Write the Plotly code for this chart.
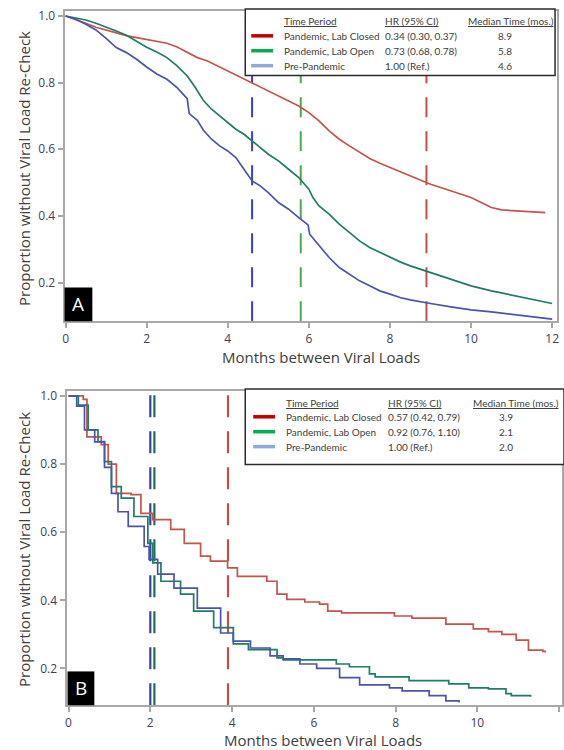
import plotly.graph_objects as go

W, H = 564, 750

# ---------------- data ----------------
series_names = ["Pandemic, Lab Closed", "Pandemic, Lab Open", "Pre-Pandemic"]

# Panel A
a_hr = ["0.34 (0.30, 0.37)", "0.73 (0.68, 0.78)", "1.00 (Ref.)"]
a_median = [8.9, 5.8, 4.6]

a_closed_x = [0, 0.25, 0.5, 0.75, 1.0, 1.25, 1.5, 1.75, 2.0, 2.25, 2.5, 2.75, 3.0, 3.25, 3.5,
              3.75, 4.0, 4.25, 4.5, 4.75, 5.0, 5.25, 5.5, 5.75, 6.0, 6.25, 6.5, 6.75, 7.0, 7.25,
              7.5, 7.75, 8.0, 8.25, 8.5, 8.75, 9.0, 9.25, 9.5, 9.75, 10.0, 10.25, 10.5, 10.75,
              11.0, 11.25, 11.5, 11.83]
a_closed_y = [1.0, 0.99, 0.978, 0.966, 0.957, 0.948, 0.941, 0.935, 0.93, 0.925, 0.918, 0.907,
              0.89, 0.875, 0.865, 0.85, 0.835, 0.82, 0.805, 0.79, 0.775, 0.76, 0.745, 0.73, 0.71,
              0.685, 0.655, 0.63, 0.61, 0.59, 0.572, 0.558, 0.545, 0.533, 0.52, 0.508, 0.495,
              0.485, 0.475, 0.465, 0.455, 0.44, 0.425, 0.418, 0.416, 0.414, 0.412, 0.41]

a_open_x = [0, 0.25, 0.5, 0.75, 1.0, 1.25, 1.5, 1.75, 2.0, 2.25, 2.5, 2.75, 3.0, 3.2, 3.4, 3.6,
            3.8, 4.0, 4.2, 4.4, 4.6, 4.75, 5.0, 5.25, 5.5, 5.75, 6.0, 6.1, 6.25, 6.5, 6.75, 7.0,
            7.25, 7.5, 7.75, 8.0, 8.25, 8.5, 8.75, 9.0, 9.5, 10.0, 10.5, 11.0, 11.5, 12.0]
a_open_y = [1.0, 0.995, 0.988, 0.978, 0.967, 0.955, 0.942, 0.925, 0.906, 0.892, 0.875, 0.85,
            0.82, 0.785, 0.746, 0.72, 0.70, 0.68, 0.66, 0.645, 0.624, 0.61, 0.585, 0.565, 0.54,
            0.515, 0.48, 0.455, 0.43, 0.405, 0.375, 0.35, 0.325, 0.305, 0.29, 0.275, 0.262,
            0.25, 0.24, 0.228, 0.21, 0.19, 0.175, 0.162, 0.15, 0.137]

a_pre_x = [0, 0.25, 0.5, 0.75, 1.0, 1.25, 1.5, 1.75, 2.0, 2.25, 2.5, 2.75, 3.0, 3.05, 3.25, 3.4,
           3.6, 3.8, 4.0, 4.2, 4.4, 4.6, 4.8, 5.0, 5.25, 5.5, 5.75, 5.98, 6.02, 6.25, 6.5, 6.75,
           7.0, 7.25, 7.5, 7.75, 8.0, 8.25, 8.5, 8.75, 9.0, 9.5, 10.0, 10.5, 11.0, 11.5, 12.0]
a_pre_y = [1.0, 0.99, 0.975, 0.958, 0.933, 0.905, 0.89, 0.87, 0.847, 0.826, 0.81, 0.785, 0.752,
           0.707, 0.687, 0.657, 0.63, 0.61, 0.595, 0.575, 0.54, 0.505, 0.49, 0.47, 0.44, 0.42,
           0.395, 0.373, 0.345, 0.31, 0.275, 0.245, 0.225, 0.205, 0.19, 0.175, 0.165, 0.155,
           0.148, 0.142, 0.137, 0.127, 0.118, 0.112, 0.104, 0.097, 0.09]

# Panel B
b_hr = ["0.57 (0.42, 0.79)", "0.92 (0.76, 1.10)", "1.00 (Ref.)"]
b_median = [3.9, 2.1, 2.0]

b_closed_x = [0, 0.36, 0.45, 0.8, 0.97, 1.17, 1.53, 1.77, 2.06, 2.5, 2.83, 3.23, 3.47, 3.89,
              4.13, 4.85, 5.1, 5.34, 5.78, 6.14, 6.34, 6.68, 7.97, 8.4, 9.23, 9.9, 10.27, 10.6,
              10.95, 11.25, 11.6, 11.66]
b_closed_y = [1.0, 0.99, 0.88, 0.857, 0.80, 0.714, 0.71, 0.655, 0.637, 0.608, 0.567, 0.53,
              0.515, 0.495, 0.47, 0.456, 0.418, 0.403, 0.395, 0.389, 0.368, 0.363, 0.354, 0.348,
              0.33, 0.316, 0.308, 0.30, 0.283, 0.254, 0.25, 0.247]

b_open_x = [0, 0.24, 0.48, 0.72, 0.88, 1.05, 1.29, 1.6, 1.94, 2.06, 2.26, 2.74, 3.06, 3.55,
            4.03, 4.4, 5.1, 5.25, 6.55, 6.87, 7.36, 7.5, 8.33, 9.3, 9.79, 10.27, 10.7, 10.83,
            11.3]
b_open_y = [1.0, 0.973, 0.90, 0.866, 0.807, 0.734, 0.70, 0.646, 0.567, 0.51, 0.456, 0.418,
            0.368, 0.32, 0.272, 0.255, 0.231, 0.225, 0.213, 0.205, 0.184, 0.175, 0.164, 0.155,
            0.143, 0.14, 0.126, 0.12, 0.117]

b_pre_x = [0, 0.2, 0.39, 0.64, 0.88, 1.05, 1.21, 1.46, 1.85, 1.97, 2.18, 2.58, 3.15, 3.72,
           4.03, 4.45, 4.93, 5.25, 5.66, 6.07, 6.63, 7.12, 7.85, 8.16, 8.82, 9.23, 9.55]
b_pre_y = [1.0, 0.97, 0.90, 0.865, 0.79, 0.714, 0.66, 0.617, 0.558, 0.52, 0.477, 0.436, 0.377,
           0.304, 0.28, 0.26, 0.237, 0.228, 0.213, 0.20, 0.173, 0.152, 0.143, 0.134, 0.12,
           0.105, 0.10]

x_ticks = [0, 2, 4, 6, 8, 10, 12]
y_ticks = [0.2, 0.4, 0.6, 0.8, 1.0]
y_ticktext = ["0.2", "0.4", "0.6", "0.8", "1.0"]
x_title = "Months between Viral Loads"
y_title = "Proportion without Viral Load Re-Check"
legend_headers = ["Time Period", "HR (95% CI)", "Median Time (mos.)"]
panel_labels = ["A", "B"]

# ---------------- styling ----------------
curve_colors = ["#c4544c", "#1f7b6a", "#4a55aa"]
a_dash_colors = ["#c0504d", "#4caa4c", "#3c3cd6"]
b_dash_colors = ["#c0504d", "#1d6f5c", "#38479c"]
legend_colors = ["#c00000", "#00b050", "#8eaadb"]


def px(x):
    return x / W


def py(y):
    return 1 - y / H


fig = go.Figure()

for xs, ys, c in [(a_closed_x, a_closed_y, curve_colors[0]),
                  (a_open_x, a_open_y, curve_colors[1]),
                  (a_pre_x, a_pre_y, curve_colors[2])]:
    fig.add_trace(go.Scatter(x=xs, y=ys, mode="lines", line=dict(color=c, width=1.7, shape="linear"),
                             xaxis="x", yaxis="y", showlegend=False, hoverinfo="skip"))
for xs, ys, c in [(b_closed_x, b_closed_y, curve_colors[0]),
                  (b_open_x, b_open_y, curve_colors[1]),
                  (b_pre_x, b_pre_y, curve_colors[2])]:
    fig.add_trace(go.Scatter(x=xs, y=ys, mode="lines", line=dict(color=c, width=1.7, shape="hv"),
                             xaxis="x2", yaxis="y2", showlegend=False, hoverinfo="skip"))

shapes = []
for m, c in zip(a_median, a_dash_colors):
    shapes.append(dict(type="line", xref="x", yref="y domain", x0=m, x1=m, y0=0, y1=1,
                       line=dict(color=c, width=2, dash="20px,14px"), layer="below"))
for m, c in zip(b_median, b_dash_colors):
    shapes.append(dict(type="line", xref="x2", yref="y2 domain", x0=m, x1=m, y0=0, y1=1,
                       line=dict(color=c, width=2.2, dash="22px,14px"), layer="below"))

annotations = []
tf = "Open Sans"
lf = "Lato"
LFS = 10


def add_legend(box, head_y, rows_y, x_sample, x_name, x_hr, x_med, hrs, meds, header_x):
    l, t, r, b = box
    shapes.append(dict(type="rect", xref="paper", yref="paper", x0=px(l), x1=px(r),
                       y0=py(b), y1=py(t), fillcolor="white",
                       line=dict(color="#2b2b2b", width=1.5), layer="above"))
    for hx, txt, anc in zip(header_x, legend_headers, ["left", "left", "center"]):
        annotations.append(dict(xref="paper", yref="paper", x=px(hx), y=py(head_y),
                                text="<u>" + txt + "</u>", showarrow=False, xanchor=anc,
                                yanchor="middle", font=dict(family=lf, size=LFS, color="#404040")))
    for i in range(3):
        yy = rows_y[i]
        shapes.append(dict(type="line", xref="paper", yref="paper", x0=px(x_sample[0]),
                           x1=px(x_sample[1]), y0=py(yy), y1=py(yy),
                           line=dict(color=legend_colors[i], width=3.5), layer="above"))
        annotations.append(dict(xref="paper", yref="paper", x=px(x_name), y=py(yy),
                                text=series_names[i], showarrow=False, xanchor="left",
                                yanchor="middle", font=dict(family=lf, size=LFS, color="#404040")))
        annotations.append(dict(xref="paper", yref="paper", x=px(x_hr), y=py(yy),
                                text=hrs[i], showarrow=False, xanchor="left",
                                yanchor="middle", font=dict(family=lf, size=LFS, color="#404040")))
        annotations.append(dict(xref="paper", yref="paper", x=px(x_med), y=py(yy),
                                text=f"{meds[i]:.1f}", showarrow=False, xanchor="center",
                                yanchor="middle", font=dict(family=lf, size=LFS, color="#404040")))


add_legend((245, 5, 557, 72), 17, [32, 47, 62], (251, 273), 282, 384, 507, a_hr, a_median,
           [282, 384, 513])
add_legend((245, 387, 566, 463), 401, [415, 430, 445], (253, 275), 284, 387, 508, b_hr, b_median,
           [284, 387, 518])

# panel labels
for (l, t, r, b), lab in zip([(63, 285, 91, 319), (66, 671, 93, 705)], panel_labels):
    shapes.append(dict(type="rect", xref="paper", yref="paper", x0=px(l), x1=px(r), y0=py(b),
                       y1=py(t), fillcolor="black", line=dict(width=0), layer="above"))
    annotations.append(dict(xref="paper", yref="paper", x=px((l + r) / 2), y=py((t + b) / 2),
                            text=lab, showarrow=False, xanchor="center", yanchor="middle",
                            font=dict(family=tf, size=19, color="white")))

# axis titles
for (xx, yy) in [(321, 355), (323, 740)]:
    annotations.append(dict(xref="paper", yref="paper", x=px(xx), y=py(yy), text=x_title,
                            showarrow=False, xanchor="center", yanchor="middle",
                            font=dict(family=tf, size=15, color="#404040")))
for (xx, yy) in [(22, 165), (22, 548)]:
    annotations.append(dict(xref="paper", yref="paper", x=px(xx), y=py(yy), text=y_title,
                            showarrow=False, xanchor="center", yanchor="middle", textangle=-90,
                            font=dict(family=tf, size=15, color="#404040")))

axis_common = dict(showline=True, mirror=True, linecolor="#a8a8a8", linewidth=2, ticks="outside",
                   ticklen=5, tickwidth=1.5, tickcolor="#a8a8a8", showgrid=False, zeroline=False,
                   tickfont=dict(family=tf, size=12, color="#3e3e5e"))

fig.update_layout(
    width=W, height=H, autosize=False,
    margin=dict(l=0, r=0, t=0, b=0),
    paper_bgcolor="white", plot_bgcolor="white",
    showlegend=False,
    xaxis=dict(domain=[px(63), px(559)], range=[-0.025, 12.12], tickvals=x_ticks, anchor="y",
               **axis_common),
    yaxis=dict(domain=[py(319), py(7)], range=[0.0836, 1.015], tickvals=y_ticks,
               ticktext=y_ticktext, anchor="x", **axis_common),
    xaxis2=dict(domain=[px(65), 1.0], range=[-0.049, 12.07], tickvals=x_ticks, anchor="y2",
                **axis_common),
    yaxis2=dict(domain=[py(705), py(389)], range=[0.092, 1.0146], tickvals=y_ticks,
                ticktext=y_ticktext, anchor="x2", **axis_common),
    shapes=shapes,
    annotations=annotations,
)

fig.write_html("out.html", config={"displayModeBar": False},
               post_script="document.body.style.margin='0px';document.body.style.padding='0px';")
